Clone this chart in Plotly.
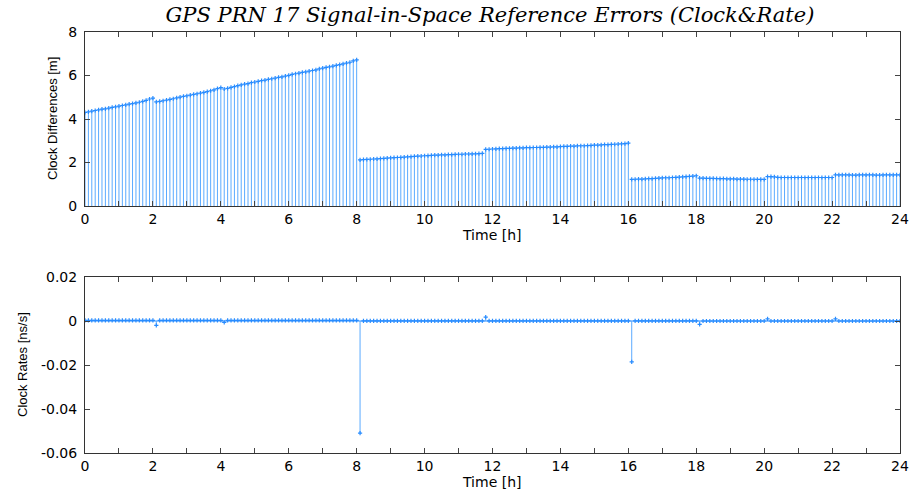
import plotly.graph_objects as go

# ---------------- data ----------------
TIME_H = [
    0.0, 0.1, 0.2, 0.3, 0.4, 0.5, 0.6, 0.7, 0.8, 0.9,
    1.0, 1.1, 1.2, 1.3, 1.4, 1.5, 1.6, 1.7, 1.8, 1.9,
    2.0, 2.1, 2.2, 2.3, 2.4, 2.5, 2.6, 2.7, 2.8, 2.9,
    3.0, 3.1, 3.2, 3.3, 3.4, 3.5, 3.6, 3.7, 3.8, 3.9,
    4.0, 4.1, 4.2, 4.3, 4.4, 4.5, 4.6, 4.7, 4.8, 4.9,
    5.0, 5.1, 5.2, 5.3, 5.4, 5.5, 5.6, 5.7, 5.8, 5.9,
    6.0, 6.1, 6.2, 6.3, 6.4, 6.5, 6.6, 6.7, 6.8, 6.9,
    7.0, 7.1, 7.2, 7.3, 7.4, 7.5, 7.6, 7.7, 7.8, 7.9,
    8.0, 8.1, 8.2, 8.3, 8.4, 8.5, 8.6, 8.7, 8.8, 8.9,
    9.0, 9.1, 9.2, 9.3, 9.4, 9.5, 9.6, 9.7, 9.8, 9.9,
    10.0, 10.1, 10.2, 10.3, 10.4, 10.5, 10.6, 10.7, 10.8, 10.9,
    11.0, 11.1, 11.2, 11.3, 11.4, 11.5, 11.6, 11.7, 11.8, 11.9,
    12.0, 12.1, 12.2, 12.3, 12.4, 12.5, 12.6, 12.7, 12.8, 12.9,
    13.0, 13.1, 13.2, 13.3, 13.4, 13.5, 13.6, 13.7, 13.8, 13.9,
    14.0, 14.1, 14.2, 14.3, 14.4, 14.5, 14.6, 14.7, 14.8, 14.9,
    15.0, 15.1, 15.2, 15.3, 15.4, 15.5, 15.6, 15.7, 15.8, 15.9,
    16.0, 16.1, 16.2, 16.3, 16.4, 16.5, 16.6, 16.7, 16.8, 16.9,
    17.0, 17.1, 17.2, 17.3, 17.4, 17.5, 17.6, 17.7, 17.8, 17.9,
    18.0, 18.1, 18.2, 18.3, 18.4, 18.5, 18.6, 18.7, 18.8, 18.9,
    19.0, 19.1, 19.2, 19.3, 19.4, 19.5, 19.6, 19.7, 19.8, 19.9,
    20.0, 20.1, 20.2, 20.3, 20.4, 20.5, 20.6, 20.7, 20.8, 20.9,
    21.0, 21.1, 21.2, 21.3, 21.4, 21.5, 21.6, 21.7, 21.8, 21.9,
    22.0, 22.1, 22.2, 22.3, 22.4, 22.5, 22.6, 22.7, 22.8, 22.9,
    23.0, 23.1, 23.2, 23.3, 23.4, 23.5, 23.6, 23.7, 23.8, 23.9,
    24.0,
]

CLOCK_DIFF_M = [
    4.30, 4.33, 4.36, 4.39, 4.42, 4.45, 4.47, 4.50, 4.53, 4.56,
    4.59, 4.62, 4.65, 4.68, 4.71, 4.74, 4.77, 4.81, 4.86, 4.92,
    4.96, 4.79, 4.81, 4.84, 4.87, 4.90, 4.93, 4.97, 5.01, 5.04,
    5.07, 5.10, 5.13, 5.16, 5.19, 5.22, 5.26, 5.30, 5.34, 5.40,
    5.44, 5.38, 5.41, 5.45, 5.49, 5.53, 5.57, 5.60, 5.63, 5.67,
    5.70, 5.73, 5.76, 5.79, 5.82, 5.85, 5.88, 5.91, 5.94, 5.97,
    6.01, 6.05, 6.08, 6.11, 6.14, 6.17, 6.20, 6.23, 6.26, 6.30,
    6.34, 6.37, 6.40, 6.43, 6.47, 6.50, 6.53, 6.57, 6.61, 6.67,
    6.72, 2.12, 2.13, 2.14, 2.15, 2.16, 2.17, 2.18, 2.19, 2.20,
    2.21, 2.22, 2.23, 2.24, 2.25, 2.26, 2.27, 2.28, 2.29, 2.30,
    2.31, 2.32, 2.33, 2.34, 2.34, 2.35, 2.35, 2.36, 2.36, 2.37,
    2.38, 2.38, 2.39, 2.39, 2.40, 2.40, 2.41, 2.42, 2.60, 2.61,
    2.62, 2.63, 2.64, 2.64, 2.65, 2.65, 2.66, 2.66, 2.67, 2.67,
    2.68, 2.68, 2.69, 2.69, 2.70, 2.70, 2.71, 2.71, 2.72, 2.72,
    2.73, 2.74, 2.74, 2.75, 2.75, 2.76, 2.77, 2.77, 2.78, 2.79,
    2.80, 2.80, 2.81, 2.82, 2.82, 2.83, 2.84, 2.85, 2.86, 2.87,
    2.89, 1.22, 1.23, 1.24, 1.24, 1.25, 1.26, 1.26, 1.27, 1.28,
    1.29, 1.30, 1.30, 1.31, 1.32, 1.33, 1.34, 1.35, 1.36, 1.37,
    1.39, 1.28, 1.28, 1.27, 1.27, 1.27, 1.26, 1.26, 1.26, 1.25,
    1.25, 1.25, 1.24, 1.24, 1.24, 1.23, 1.23, 1.23, 1.22, 1.22,
    1.22, 1.35, 1.35, 1.34, 1.32, 1.31, 1.31, 1.31, 1.31, 1.31,
    1.31, 1.31, 1.31, 1.31, 1.31, 1.31, 1.31, 1.31, 1.31, 1.31,
    1.31, 1.43, 1.43, 1.43, 1.43, 1.43, 1.42, 1.42, 1.43, 1.43,
    1.43, 1.43, 1.43, 1.42, 1.42, 1.43, 1.43, 1.43, 1.43, 1.43,
    1.43,
]

CLOCK_RATE_NS_S = [
    0.0003, 0.0003, 0.0003, 0.0003, 0.0003, 0.0003, 0.0003, 0.0003, 0.0003, 0.0003,
    0.0003, 0.0003, 0.0003, 0.0003, 0.0003, 0.0003, 0.0003, 0.0003, 0.0003, 0.0003,
    0.0003, -0.0020, 0.0003, 0.0003, 0.0003, 0.0003, 0.0003, 0.0003, 0.0003, 0.0003,
    0.0003, 0.0003, 0.0003, 0.0003, 0.0003, 0.0003, 0.0003, 0.0003, 0.0003, 0.0003,
    0.0003, -0.0006, 0.0003, 0.0003, 0.0003, 0.0003, 0.0003, 0.0003, 0.0003, 0.0003,
    0.0003, 0.0003, 0.0003, 0.0003, 0.0003, 0.0003, 0.0003, 0.0003, 0.0003, 0.0003,
    0.0003, 0.0003, 0.0003, 0.0003, 0.0003, 0.0003, 0.0003, 0.0003, 0.0003, 0.0003,
    0.0003, 0.0003, 0.0003, 0.0003, 0.0003, 0.0003, 0.0003, 0.0003, 0.0003, 0.0003,
    0.0003, -0.0510, 0.0001, 0.0001, 0.0001, 0.0001, 0.0001, 0.0001, 0.0001, 0.0001,
    0.0001, 0.0001, 0.0001, 0.0001, 0.0001, 0.0001, 0.0001, 0.0001, 0.0001, 0.0001,
    0.0001, 0.0001, 0.0001, 0.0001, 0.0001, 0.0001, 0.0001, 0.0001, 0.0001, 0.0001,
    0.0001, 0.0001, 0.0001, 0.0001, 0.0001, 0.0001, 0.0001, 0.0001, 0.0018, 0.0001,
    0.0001, 0.0001, 0.0001, 0.0001, 0.0001, 0.0001, 0.0001, 0.0001, 0.0001, 0.0001,
    0.0001, 0.0001, 0.0001, 0.0001, 0.0001, 0.0001, 0.0001, 0.0001, 0.0001, 0.0001,
    0.0001, 0.0001, 0.0001, 0.0001, 0.0001, 0.0001, 0.0001, 0.0001, 0.0001, 0.0001,
    0.0001, 0.0001, 0.0001, 0.0001, 0.0001, 0.0001, 0.0001, 0.0001, 0.0001, 0.0001,
    0.0001, -0.0186, 0.0001, 0.0001, 0.0001, 0.0001, 0.0001, 0.0001, 0.0001, 0.0001,
    0.0001, 0.0001, 0.0001, 0.0001, 0.0001, 0.0001, 0.0001, 0.0001, 0.0001, 0.0001,
    0.0001, -0.0015, 0.0000, 0.0000, 0.0000, 0.0000, 0.0000, 0.0000, 0.0000, 0.0000,
    0.0000, 0.0000, 0.0000, 0.0000, 0.0000, 0.0000, 0.0000, 0.0000, 0.0000, 0.0000,
    0.0000, 0.0010, 0.0000, 0.0000, 0.0000, 0.0000, 0.0000, 0.0000, 0.0000, 0.0000,
    0.0000, 0.0000, 0.0000, 0.0000, 0.0000, 0.0000, 0.0000, 0.0000, 0.0000, 0.0000,
    0.0000, 0.0010, 0.0000, 0.0000, 0.0000, 0.0000, 0.0000, 0.0000, 0.0000, 0.0000,
    0.0000, 0.0000, 0.0000, 0.0000, 0.0000, 0.0000, 0.0000, 0.0000, 0.0000, 0.0000,
    0.0000,
]

X_TICKS = [0, 2, 4, 6, 8, 10, 12, 14, 16, 18, 20, 22, 24]
Y1_TICKS = [0, 2, 4, 6, 8]
Y2_TICKS = [-0.06, -0.04, -0.02, 0, 0.02]
Y2_TICK_TEXT = ["-0.06", "-0.04", "-0.02", "0", "0.02"]

TITLE = "GPS PRN 17 Signal-in-Space Reference Errors (Clock&Rate)"

# ---------------- styling ----------------
W, H = 914, 492
STEM = "rgb(90,170,255)"
MARK = "rgb(40,140,255)"
TICK_FONT = dict(family="DejaVu Sans", size=14, color="black")


def stem_xy(xs, ys):
    sx, sy = [], []
    for x, y in zip(xs, ys):
        sx += [x, x, None]
        sy += [0, y, None]
    return sx, sy


fig = go.Figure()

# top: clock differences
sx, sy = stem_xy(TIME_H, CLOCK_DIFF_M)
fig.add_trace(go.Scatter(x=sx, y=sy, mode="lines", line=dict(color=STEM, width=1),
                         xaxis="x", yaxis="y", hoverinfo="skip", showlegend=False))
fig.add_trace(go.Scatter(x=TIME_H, y=CLOCK_DIFF_M, mode="markers",
                         marker=dict(symbol="cross-thin", size=3, line=dict(color=MARK, width=1.2)),
                         xaxis="x", yaxis="y", showlegend=False))

# bottom: clock rates
sx2, sy2 = stem_xy(TIME_H, CLOCK_RATE_NS_S)
fig.add_trace(go.Scatter(x=[TIME_H[0], TIME_H[-1]], y=[0, 0], mode="lines",
                         line=dict(color=MARK, width=1), xaxis="x2", yaxis="y2",
                         hoverinfo="skip", showlegend=False))
fig.add_trace(go.Scatter(x=sx2, y=sy2, mode="lines", line=dict(color=STEM, width=1),
                         xaxis="x2", yaxis="y2", hoverinfo="skip", showlegend=False))
fig.add_trace(go.Scatter(x=TIME_H, y=CLOCK_RATE_NS_S, mode="markers",
                         marker=dict(symbol="cross-thin", size=3, line=dict(color=MARK, width=1.2)),
                         xaxis="x2", yaxis="y2", showlegend=False))

x0, x1 = 85 / W, 900 / W
ax_common = dict(showline=True, linecolor="#333", linewidth=1, mirror="ticks",
                 ticks="inside", ticklen=5, tickcolor="#444", showgrid=False,
                 zeroline=False, tickfont=TICK_FONT, automargin=False)

fig.update_layout(
    width=W, height=H,
    margin=dict(l=0, r=0, t=0, b=0),
    paper_bgcolor="white", plot_bgcolor="white",
    title=dict(text=TITLE, x=490 / W, y=1 - 15 / H, xanchor="center", yanchor="middle",
               xref="paper", yref="paper",
               font=dict(family="DejaVu Serif", size=21, style="italic", color="black")),
    xaxis=dict(domain=[x0, x1], range=[0, 24], tickvals=X_TICKS, anchor="y",
               minor=dict(dtick=1, ticks="inside", ticklen=5, tickcolor="#444"),
               ticklabelstandoff=0, **ax_common),
    yaxis=dict(domain=[1 - 206 / H, 1 - 32 / H], range=[0, 8], tickvals=Y1_TICKS, anchor="x",
               ticklabelstandoff=4, **ax_common),
    xaxis2=dict(domain=[x0, x1], range=[0, 24], tickvals=X_TICKS, anchor="y2",
                minor=dict(dtick=1, ticks="inside", ticklen=5, tickcolor="#444"),
                ticklabelstandoff=0, **ax_common),
    yaxis2=dict(domain=[1 - 453 / H, 1 - 277 / H], range=[-0.06, 0.02], tickvals=Y2_TICKS,
                ticktext=Y2_TICK_TEXT, anchor="x2", ticklabelstandoff=4, **ax_common),
    annotations=[
        dict(text="Time [h]", x=492 / W, y=1 - 235 / H, xref="paper", yref="paper",
             showarrow=False, xanchor="center", yanchor="middle",
             font=dict(family="DejaVu Sans", size=14, color="black")),
        dict(text="Time [h]", x=492 / W, y=1 - 482 / H, xref="paper", yref="paper",
             showarrow=False, xanchor="center", yanchor="middle",
             font=dict(family="DejaVu Sans", size=14, color="black")),
        dict(text="Clock Differences [m]", x=52 / W, y=1 - 119 / H, xref="paper", yref="paper",
             showarrow=False, xanchor="center", yanchor="middle", textangle=-90,
             font=dict(family="Liberation Sans", size=13, color="black")),
        dict(text="Clock Rates [ns/s]", x=22 / W, y=1 - 365 / H, xref="paper", yref="paper",
             showarrow=False, xanchor="center", yanchor="middle", textangle=-90,
             font=dict(family="Liberation Sans", size=13, color="black")),
    ],
)

fig.write_html("out.html")
